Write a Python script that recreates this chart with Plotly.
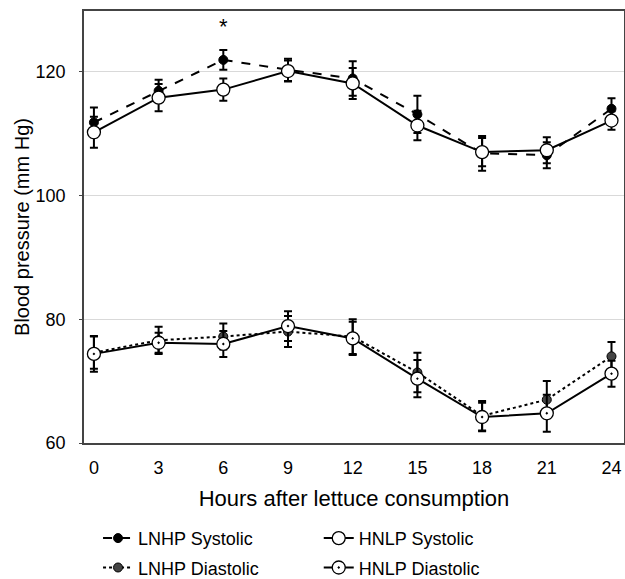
import plotly.graph_objects as go

hours = [0, 3, 6, 9, 12, 15, 18, 21, 24]

lnhp_sys = [111.8, 116.9, 121.9, 120.3, 118.9, 113.1, 106.8, 106.5, 114.0]
lnhp_sys_err = [2.4, 1.8, 1.6, 1.8, 2.8, 3.0, 2.8, 2.1, 1.7]
hnlp_sys = [110.2, 115.8, 117.1, 120.1, 118.1, 111.3, 107.0, 107.3, 112.1]
hnlp_sys_err = [2.5, 2.2, 1.8, 1.7, 2.5, 2.4, 2.3, 2.1, 1.5]

lnhp_dia = [74.6, 76.6, 77.2, 78.0, 77.2, 71.4, 64.4, 67.0, 74.0]
lnhp_dia_err = [2.6, 2.2, 2.1, 2.5, 2.8, 3.2, 2.4, 3.0, 2.3]
hnlp_dia = [74.4, 76.2, 76.0, 78.9, 76.9, 70.4, 64.2, 64.8, 71.2]
hnlp_dia_err = [2.9, 1.6, 2.1, 2.4, 2.7, 3.0, 2.3, 3.0, 2.1]

y_ticks = [60, 80, 100, 120]
x_ticks = hours

fig = go.Figure()

def err(vals):
    return dict(type="data", array=vals, visible=True, color="black", thickness=2, width=4)

# Systolic
fig.add_trace(go.Scatter(
    x=hours, y=lnhp_sys, name="LNHP Systolic", mode="lines+markers",
    line=dict(color="black", width=2, dash="dash"),
    marker=dict(symbol="circle", size=9, color="black", line=dict(color="black", width=1)),
    error_y=err(lnhp_sys_err), legend="legend", legendgroup="a"))
fig.add_trace(go.Scatter(
    x=hours, y=hnlp_sys, name="HNLP Systolic", mode="lines+markers",
    line=dict(color="black", width=2),
    marker=dict(symbol="circle", size=13, color="white", line=dict(color="black", width=1.3)),
    error_y=err(hnlp_sys_err), legend="legend2", legendgroup="c"))

# Diastolic
fig.add_trace(go.Scatter(
    x=hours, y=lnhp_dia, name="LNHP Diastolic", mode="lines+markers",
    line=dict(color="black", width=2, dash="dot"),
    marker=dict(symbol="circle", size=9, color="#444", line=dict(color="black", width=1)),
    error_y=err(lnhp_dia_err), legend="legend", legendgroup="b"))
fig.add_trace(go.Scatter(
    x=hours, y=hnlp_dia, name="HNLP Diastolic", mode="lines+markers",
    line=dict(color="black", width=2),
    marker=dict(symbol="circle-dot", size=13, color="white", line=dict(color="black", width=1.3)),
    error_y=err(hnlp_dia_err), legend="legend2", legendgroup="d"))

fig.add_annotation(x=6, y=127.3, text="*", showarrow=False,
                   font=dict(size=22, color="black", family="Liberation Sans, Arial"))

legend_common = dict(orientation="v", font=dict(size=18, color="black", family="Liberation Sans, Arial"),
                     bgcolor="rgba(0,0,0,0)", itemwidth=30, yanchor="top", xanchor="left",
                     tracegroupgap=3)

fig.update_layout(
    width=625, height=579,
    margin=dict(l=84, r=1, t=11, b=136, autoexpand=False),
    plot_bgcolor="white", paper_bgcolor="white",
    font=dict(family="Liberation Sans, Arial", size=18, color="black"),
    legend=dict(x=0.026, y=-0.178, **legend_common),
    legend2=dict(x=0.4347, y=-0.178, **legend_common),
    xaxis=dict(range=[-0.46, 24.58], tickvals=x_ticks, ticktext=[str(v) for v in x_ticks],
               showgrid=False, zeroline=False, showline=True, mirror=True,
               linecolor="#444", linewidth=1.5, ticks="", ticklabelstandoff=8,
               title=dict(text="Hours after lettuce consumption", standoff=13),
               tickfont=dict(size=18)),
    yaxis=dict(range=[60, 129.8], tickvals=y_ticks, ticktext=[str(v) for v in y_ticks],
               showgrid=True, gridcolor="#d9d9d9", gridwidth=1, zeroline=False,
               showline=True, mirror=True, linecolor="#444", linewidth=1.5,
               ticks="outside", ticklen=3, tickcolor="#444", ticklabelstandoff=10,
               title=dict(text="Blood pressure (mm Hg)", standoff=1,
                          font=dict(size=20, family="Liberation Sans, Arial", color="black")),
               tickfont=dict(size=18)),
)

fig.write_html("out.html")
